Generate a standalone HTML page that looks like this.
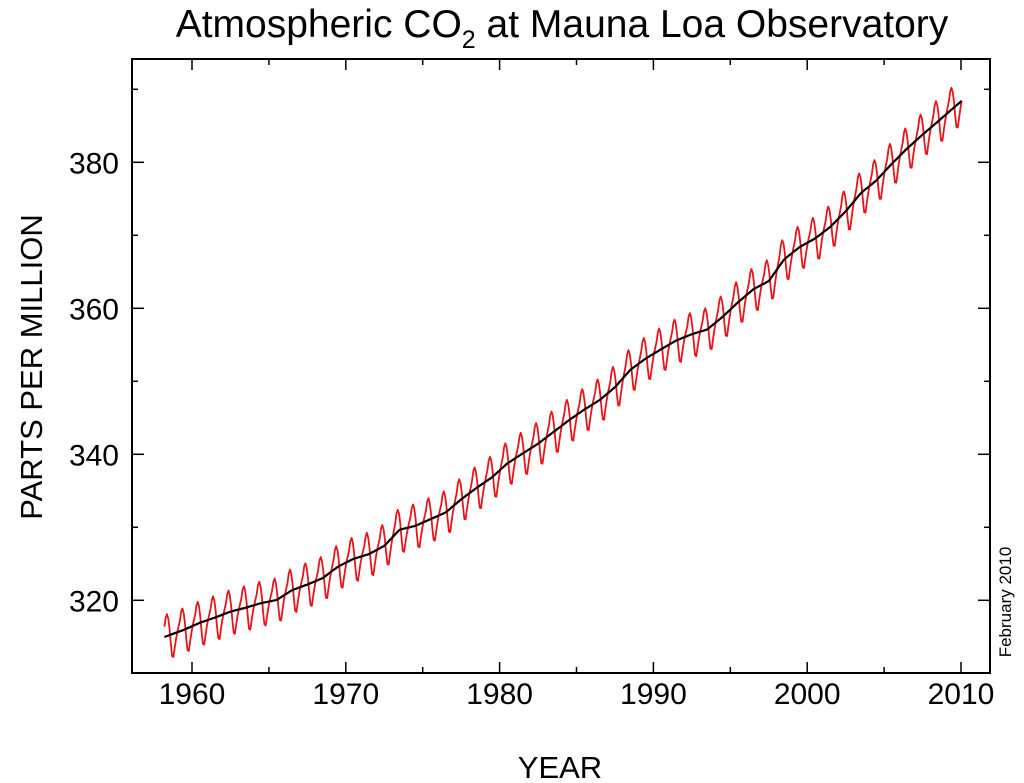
<!DOCTYPE html>
<html><head><meta charset="utf-8"><style>
body{margin:0;background:#fff;}
svg{display:block;font-family:"Liberation Sans",Arial,sans-serif;}
</style></head><body>
<svg id="chart" width="1024" height="783" viewBox="0 0 1024 783">
<text x="562" y="37" text-anchor="middle" font-size="39">Atmospheric CO<tspan font-size="25" dy="11">2</tspan><tspan dy="-11"> at Mauna Loa Observatory</tspan></text>
<g id="plot"></g>
<text transform="translate(42,367) rotate(-90)" text-anchor="middle" font-size="31">PARTS PER MILLION</text>
<text x="560" y="778" text-anchor="middle" font-size="31">YEAR</text>
<text transform="translate(1011,602) rotate(-90)" text-anchor="middle" font-size="17">February 2010</text>
</svg>
<script>
const years=[1958,1959,1960,1961,1962,1963,1964,1965,1966,1967,1968,1969,1970,1971,1972,1973,1974,1975,1976,1977,1978,1979,1980,1981,1982,1983,1984,1985,1986,1987,1988,1989,1990,1991,1992,1993,1994,1995,1996,1997,1998,1999,2000,2001,2002,2003,2004,2005,2006,2007,2008,2009];
const annualMeans=[315.2,315.98,316.91,317.64,318.45,318.99,319.62,320.04,321.38,322.16,323.04,324.62,325.68,326.32,327.45,329.68,330.18,331.11,332.04,333.83,335.40,336.84,338.75,340.11,341.45,343.05,344.65,346.12,347.42,349.19,351.57,353.12,354.39,355.61,356.45,357.10,358.83,360.82,362.61,363.73,366.70,368.38,369.55,371.14,373.28,375.80,377.52,379.80,381.90,383.79,385.60,387.43];
const seasonal=[0.0,0.7,1.4,2.6,3.0,2.3,0.8,-1.3,-3.0,-3.2,-2.0,-0.9];
const xTicks=[1960,1970,1980,1990,2000,2010];
const yTicks=[320,340,360,380];
const L=132,R=990,T=59,B=673;
const x=v=>192+(v-1960)*15.38;
const y=v=>162.3+(380-v)*7.3;
const NS="http://www.w3.org/2000/svg";
const g=document.getElementById('plot');
function el(t,a){const e=document.createElementNS(NS,t);for(const k in a)e.setAttribute(k,a[k]);g.appendChild(e);return e;}
function trendAt(t){
  const p=t-0.5;
  if(p<=years[0])return annualMeans[0]+(p-years[0])*(annualMeans[1]-annualMeans[0]);
  for(let i=0;i<years.length-1;i++){if(p<=years[i+1]){const f=(p-years[i]);return annualMeans[i]+f*(annualMeans[i+1]-annualMeans[i]);}}
  const n=years.length-1;return annualMeans[n]+(p-years[n])*(annualMeans[n]-annualMeans[n-1]);
}
let red=[],blk=[];
for(let yr=1958;yr<=2010;yr++){for(let m=0;m<12;m++){
  if(yr===1958&&m<2)continue; if(yr===2010&&m>0)break;
  const t=yr+(m+0.5)/12;const tr=trendAt(t);
  red.push(x(t).toFixed(1)+','+y(tr+seasonal[m]).toFixed(1));
  blk.push(x(t).toFixed(1)+','+y(tr).toFixed(1));
}}
const rl=el('polyline',{points:red.join(' '),fill:'none',stroke:'#e8141a','stroke-width':1.8,'stroke-linejoin':'round'});


const bl=el('polyline',{points:blk.join(' '),fill:'none',stroke:'#000','stroke-width':2.2});


const fr=el('rect',{x:L,y:T,width:R-L,height:B-T,fill:'none',stroke:'#000','stroke-width':2});


for(let v=1960;v<=2010;v+=5){const big=v%10===0;const len=big?11:6;
  el('line',{x1:x(v),x2:x(v),y1:B,y2:B-len,stroke:'#000','stroke-width':1.5});
  el('line',{x1:x(v),x2:x(v),y1:T,y2:T+len,stroke:'#000','stroke-width':1.5});}
for(let v=320;v<=390;v+=10){const big=v%20===0;const len=big?12:6;
  el('line',{x1:L,x2:L+len,y1:y(v),y2:y(v),stroke:'#000','stroke-width':1.5});
  el('line',{x1:R,x2:R-len,y1:y(v),y2:y(v),stroke:'#000','stroke-width':1.5});}
xTicks.forEach(v=>{const t=el('text',{x:x(v),y:704,'text-anchor':'middle','font-size':30});t.textContent=v;
  
  });
yTicks.forEach(v=>{const t=el('text',{x:119,y:y(v)+11,'text-anchor':'end','font-size':30});t.textContent=v;
  
  });
</script>
</body></html>
